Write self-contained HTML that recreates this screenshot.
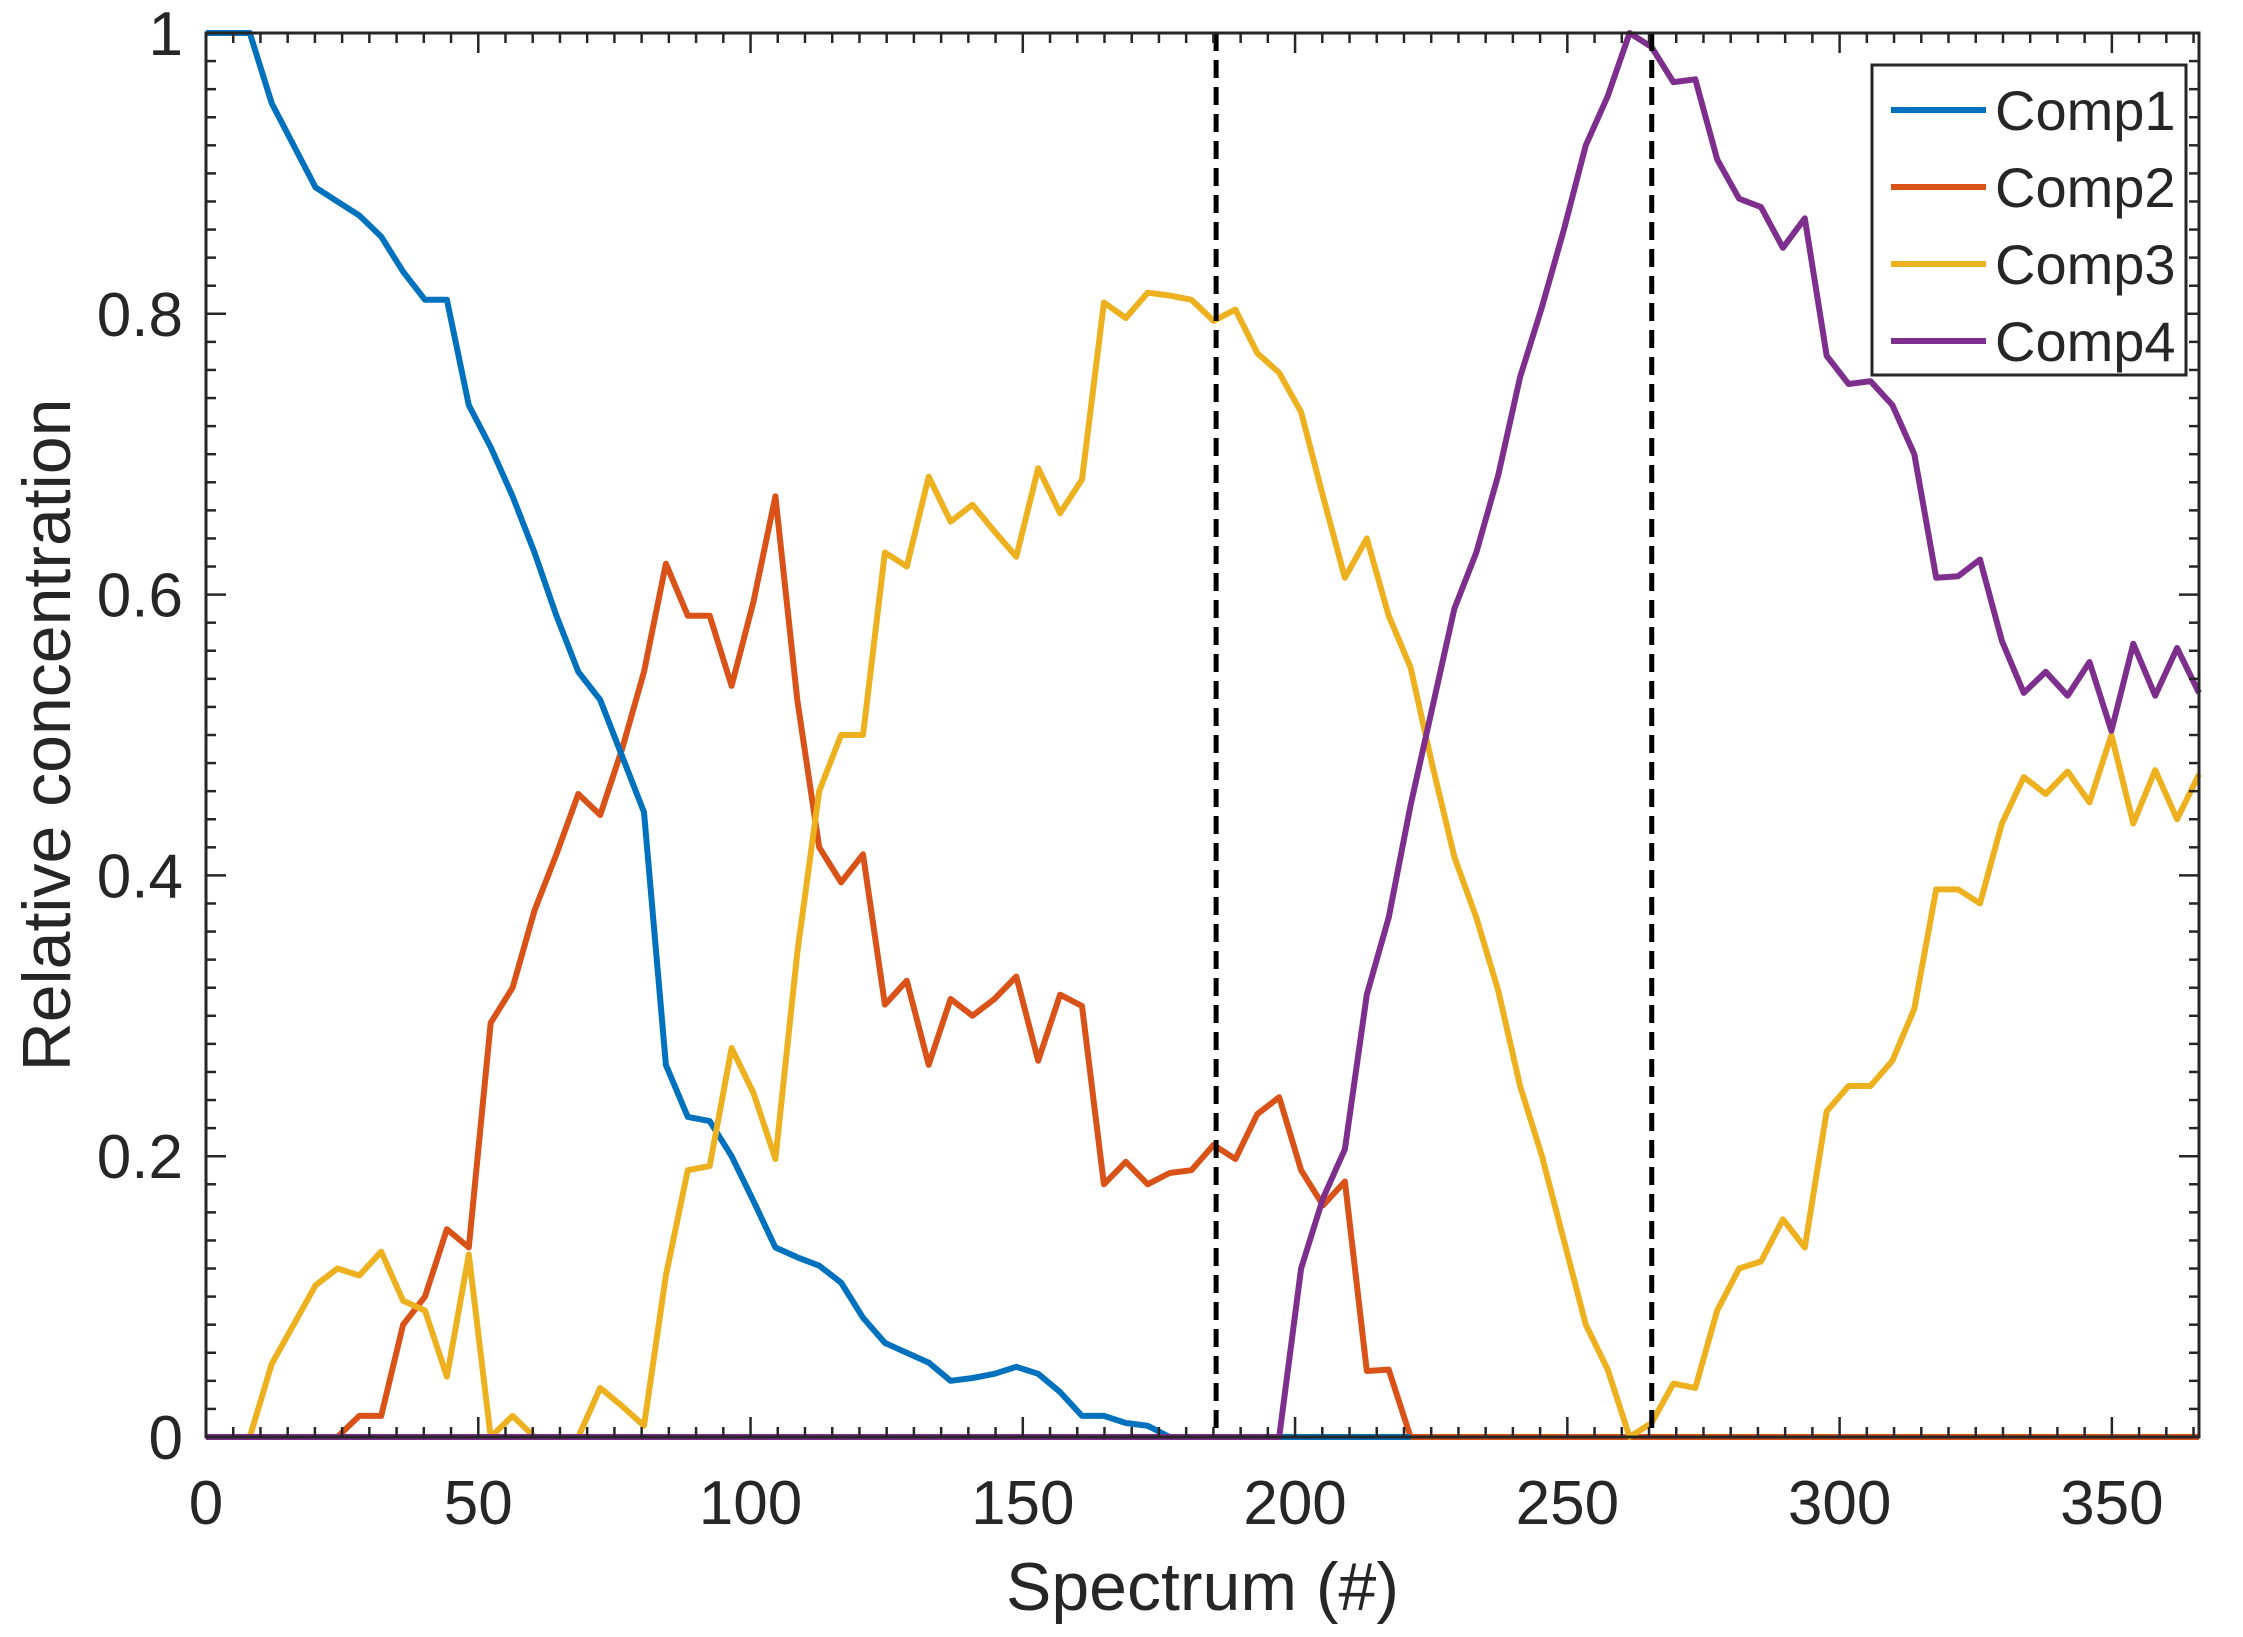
<!DOCTYPE html>
<html><head><meta charset="utf-8"><style>
html,body{margin:0;padding:0;background:#fff;}
svg{display:block;}
text{font-family:"Liberation Sans",Arial,sans-serif;fill:#262626;}
</style></head><body>
<svg id="s" width="2243" height="1637" viewBox="0 0 2243 1637" xmlns="http://www.w3.org/2000/svg">
<rect width="2243" height="1637" fill="#fff"/>
<g id="g"></g>
</svg>
<script>
const L=206,R=2199,T=33,B=1437,XM=366,F=366/364;
const X=v=>L+v*(R-L)/XM, Y=c=>B-c*(B-T);
const XD=v=>X(Math.min(v*F,XM));
const ns="http://www.w3.org/2000/svg", g=document.getElementById('g');
function el(t,a,txt){const e=document.createElementNS(ns,t);for(const k in a)e.setAttribute(k,a[k]);if(txt!==undefined)e.textContent=txt;g.appendChild(e);return e;}
const c1=[1,1,1,0.95,0.92,0.89,0.88,0.87,0.855,0.83,0.81,0.81,0.735,0.705,0.67,0.63,0.585,0.545,0.525,0.485,0.445,0.265,0.228,0.225,0.2,0.168,0.135,0.128,0.122,0.11,0.085,0.067,0.06,0.053,0.04,0.042,0.045,0.05,0.045,0.032,0.015,0.015,0.01,0.008,0,0,0,0,0,0,0,0,0,0,0,0];
const c2=[0,0,0,0,0,0,0,0.015,0.015,0.08,0.1,0.148,0.135,0.295,0.32,0.375,0.415,0.458,0.443,0.49,0.545,0.622,0.585,0.585,0.535,0.595,0.67,0.525,0.42,0.395,0.415,0.308,0.325,0.265,0.312,0.3,0.312,0.328,0.268,0.315,0.307,0.18,0.196,0.18,0.188,0.19,0.208,0.198,0.23,0.242,0.19,0.165,0.182,0.047,0.048,0];
const c3=[0,0,0,0.052,0.08,0.108,0.12,0.115,0.132,0.097,0.09,0.043,0.13,0,0.015,0,0,0,0.035,0.022,0.008,0.115,0.19,0.193,0.277,0.245,0.198,0.345,0.46,0.5,0.5,0.63,0.62,0.684,0.652,0.664,0.645,0.627,0.69,0.658,0.682,0.808,0.797,0.815,0.813,0.81,0.795,0.803,0.772,0.758,0.73,0.67,0.612,0.64,0.585,0.548,0.478,0.413,0.37,0.318,0.25,0.2,0.14,0.08,0.048,0,0.01,0.038,0.035,0.09,0.12,0.125,0.155,0.135,0.232,0.25,0.25,0.268,0.305,0.39,0.39,0.38,0.437,0.47,0.458,0.474,0.452,0.5,0.437,0.475,0.44,0.472];
const c4p={196:0,200:0.12,204:0.17,208:0.205,212:0.315,216:0.37,220:0.45,224:0.52,228:0.59,232:0.63,236:0.685,240:0.755,244:0.805,248:0.86,252:0.92,256:0.955,260:1.0,264:0.99,268:0.965,272:0.967,276:0.91,280:0.882,284:0.876,288:0.847,292:0.868,296:0.77,300:0.75,304:0.752,308:0.735,312:0.7,316:0.612,320:0.613,324:0.625,328:0.567,332:0.53,336:0.545,340:0.528,344:0.552,348:0.503,352:0.565,356:0.528,360:0.562,364:0.53};
function pts(arr){let p=[];for(let i=0;i<arr.length;i++)p.push(XD(i*4).toFixed(1)+","+Y(arr[i]).toFixed(1));return p;}
function full(arr){const a=arr.slice();while(a.length<92)a.push(0);return a;}
const SW=6;
el('polyline',{points:pts(full(c2)).join(' '),fill:'none',stroke:'#D95319','stroke-width':SW,'stroke-linejoin':'round'});
el('polyline',{points:pts(c1).join(' '),fill:'none',stroke:'#0072BD','stroke-width':SW,'stroke-linejoin':'round'});
el('polyline',{points:pts(c3).join(' '),fill:'none',stroke:'#EDB120','stroke-width':SW,'stroke-linejoin':'round'});
let p4=[X(0)+","+Y(0)];for(const k in c4p)p4.push(XD(+k).toFixed(1)+","+Y(c4p[k]).toFixed(1));
el('polyline',{points:p4.join(' '),fill:'none',stroke:'#7E2F8E','stroke-width':SW,'stroke-linejoin':'round'});
[185.5,265.5].forEach(v=>el('line',{x1:X(v),x2:X(v),y1:T,y2:B,stroke:'#000','stroke-width':5,'stroke-dasharray':'18 9'}));
el('rect',{x:L,y:T,width:R-L,height:B-T,fill:'none',stroke:'#262626','stroke-width':3});
for(let v=0;v<=XM;v+=5){const maj=v%50==0,l=maj?20:10;
 el('line',{x1:X(v),x2:X(v),y1:B,y2:B-l,stroke:'#262626','stroke-width':2.5});
 el('line',{x1:X(v),x2:X(v),y1:T,y2:T+l,stroke:'#262626','stroke-width':2.5});
 if(maj)el('text',{x:X(v),y:1524,'font-size':62,'text-anchor':'middle'},String(v));}
for(let i=0;i<=50;i++){const c=i*0.02,maj=i%10==0,l=maj?20:10;
 el('line',{x1:L,x2:L+l,y1:Y(c),y2:Y(c),stroke:'#262626','stroke-width':2.5});
 el('line',{x1:R,x2:R-l,y1:Y(c),y2:Y(c),stroke:'#262626','stroke-width':2.5});
 if(maj){const s=i==0?'0':i==50?'1':(c).toFixed(1);el('text',{x:183,y:Y(c)+22,'font-size':62,'text-anchor':'end'},s);}}
el('text',{x:(L+R)/2,y:1610,'font-size':68,'text-anchor':'middle'},'Spectrum (#)');
el('text',{x:0,y:0,'font-size':68,'text-anchor':'middle',transform:'translate(70,'+((T+B)/2)+') rotate(-90)'},'Relative concentration');
el('rect',{x:1872,y:65,width:314,height:310,fill:'#fff',stroke:'#262626','stroke-width':3});
[['Comp1','#0072BD'],['Comp2','#D95319'],['Comp3','#EDB120'],['Comp4','#7E2F8E']].forEach((d,i)=>{const y=110+i*77;
 el('line',{x1:1891,x2:1986,y1:y,y2:y,stroke:d[1],'stroke-width':SW});
 el('text',{x:1995,y:y+20,'font-size':56,fill:'#000'},d[0]);});
</script>
</body></html>
